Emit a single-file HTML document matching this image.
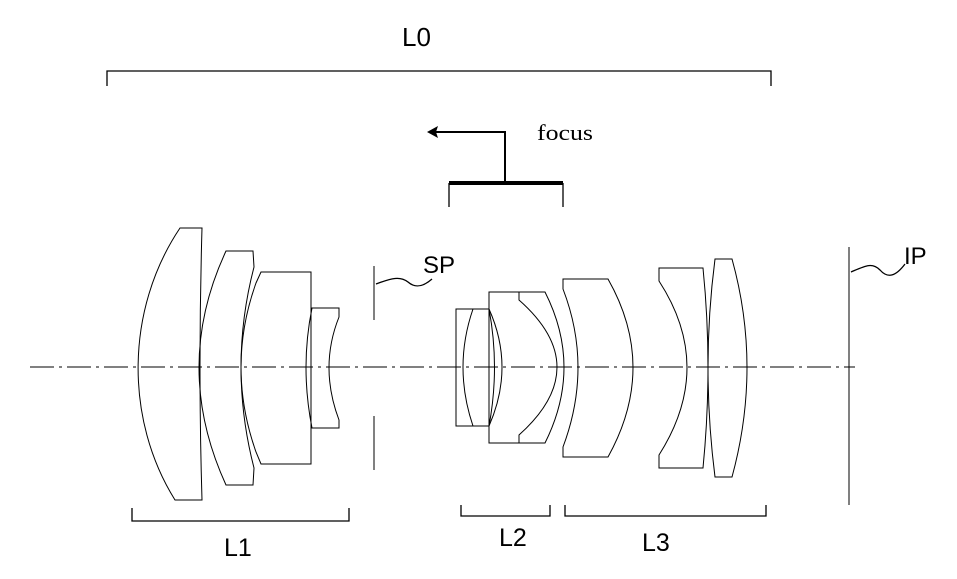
<!DOCTYPE html>
<html><head><style>
html,body{margin:0;padding:0;background:#fff;}
svg{display:block;}
</style></head><body>
<svg width="957" height="579" viewBox="0 0 957 579" xmlns="http://www.w3.org/2000/svg">
<g fill="none" stroke="#000" stroke-width="1">
<line x1="30" y1="367" x2="855" y2="367" stroke-dasharray="24,5,3,5" stroke-width="1"/>
<path d="M107,86 L107,71 L771,71 L771,86" stroke-width="1.3"/>
<path d="M180,228 L202,228 Q198,367 202,500 L175,500 C125,420 125,310 180,228 Z"/>
<path d="M226,251 L253,251 L254,267 Q228,367 254,468 L253,485 L226,485 Q172,367 226,251 Z"/>
<path d="M261,272 L311,272 L311,464 L261,464 L256,452 Q226,367 256,283 Z"/>
<path d="M312,308 L339,308 L339,317 Q319,367 339,420 L339,428 L312,428 Q300,367 312,308 Z"/>
<line x1="374" y1="266" x2="374" y2="320"/>
<line x1="374" y1="416" x2="374" y2="470"/>
<path d="M376,284 C392,278 400,276 408,282 C416,289 424,286 432,279" stroke-width="1.3"/>
<path d="M473,309 L456,309 L456,426 L473,426"/>
<path d="M473,309 Q453,367 473,426"/>
<path d="M473,309 L489,309 M473,426 L489,426"/>
<path d="M489,309 Q515,367 489,426"/>
<path d="M489,309 Q500,367 489,426"/>
<path d="M489,292 L545,292 Q583,367 545,443 L489,443 Z"/>
<path d="M519,292 L519,300 Q595,367 519,435 L519,443"/>
<path d="M563,279 L608,279 Q658,367 608,457 L563,457 L563,447 Q593,367 563,289 Z"/>
<path d="M659,268 L703,268 Q713,367 703,468 L659,468 L659,455 Q715,367 659,281 Z"/>
<path d="M715,259 L732,259 Q762,367 732,477 L715,477 Q701,367 715,259 Z"/>
<line x1="849" y1="247" x2="849" y2="505"/>
<path d="M851,272 C865,266 872,262 880,270 C888,279 896,276 905,264" stroke-width="1.3"/>
<path d="M434,132 L505,132 L505,183" stroke-width="2"/>
<path d="M427,132 L438,126 L436,132 L438,138 Z" fill="#000" stroke="none"/>
<line x1="449" y1="183" x2="563" y2="183" stroke-width="4"/>
<line x1="449" y1="183" x2="449" y2="207" stroke-width="1.3"/>
<line x1="563" y1="183" x2="563" y2="207" stroke-width="1.3"/>
<path d="M132,508 L132,521 L349,521 L349,508" stroke-width="1.3"/>
<path d="M461,505 L461,516 L550,516 L550,505" stroke-width="1.3"/>
<path d="M565,505 L565,516 L766,516 L766,505" stroke-width="1.3"/>
</g>
<g fill="#000" font-family="Liberation Sans, sans-serif">
<text x="402" y="46" font-size="26">L0</text>
<text x="423" y="273" font-size="24">SP</text>
<text x="904" y="264" font-size="24">IP</text>
<text x="224" y="556" font-size="25">L1</text>
<text x="499" y="546" font-size="25">L2</text>
<text x="642" y="551" font-size="25">L3</text>
<text x="537" y="140" font-size="22" font-family="Liberation Serif, serif" textLength="56" lengthAdjust="spacingAndGlyphs">focus</text>
</g>
</svg>
</body></html>
